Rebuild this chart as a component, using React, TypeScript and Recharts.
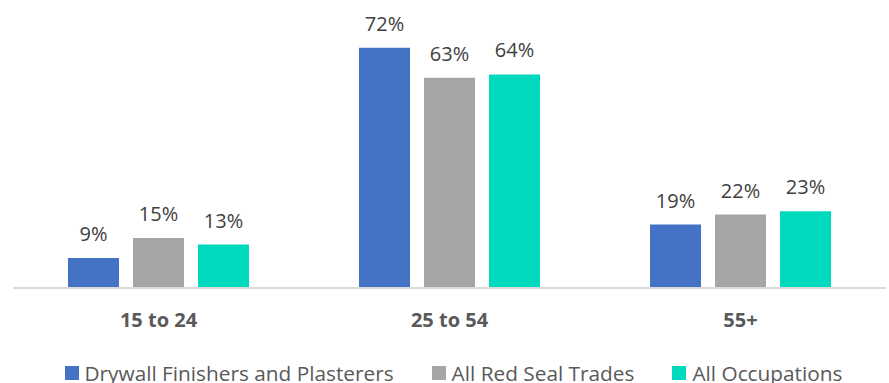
import React from 'react';
import { BarChart, Bar, XAxis, YAxis, Legend, LabelList } from 'recharts';

const categories = ['15 to 24', '25 to 54', '55+'];
const drywall = [9, 72, 19];
const redSeal = [15, 63, 22];
const allOcc = [13, 64, 23];
const seriesNames = ['Drywall Finishers and Plasterers', 'All Red Seal Trades', 'All Occupations'];
const seriesColors = ['#4472C4', '#A5A5A5', '#00D9BE'];

const data = categories.map((c, i) => ({
  cat: c,
  s0: drywall[i],
  s1: redSeal[i],
  s2: allOcc[i],
}));

const FONT = '"Open Sans", "Noto Sans", sans-serif';

const LegendContent = () => (
  <div
    style={{
      display: 'flex',
      justifyContent: 'center',
      alignItems: 'center',
      paddingTop: 25,
      paddingLeft: 8,
      gap: 38,
      fontFamily: FONT,
      fontSize: 20.8,
      lineHeight: '20px',
      color: '#595959',
      whiteSpace: 'nowrap',
    }}
  >
    {seriesNames.map((n, i) => (
      <div key={n} style={{ display: 'flex', alignItems: 'center' }}>
        <span style={{ display: 'inline-block', width: 14, height: 14, background: seriesColors[i], marginRight: 6 }} />
        <span>{n}</span>
      </div>
    ))}
  </div>
);

export default function App() {
  return (
    <div style={{ width: 889, height: 383 }}>
      <style>{`body{margin:0}`}</style>
      <BarChart
        width={889}
        height={383}
        data={data}
        margin={{ top: 21, right: 3, left: 13, bottom: 0 }}
        barSize={51}
        barGap={14}
      >
        <XAxis
          dataKey="cat"
          height={50}
          axisLine={{ stroke: '#D9D9D9', strokeWidth: 2 }}
          tickLine={false}
          tickSize={0}
          tickMargin={25}
          tick={{ fill: '#595959', fontSize: 20, fontWeight: 700, fontFamily: FONT }}
        />
        <YAxis hide domain={[0, 80]} />
        <Legend height={45} content={<LegendContent />} />
        {['s0', 's1', 's2'].map((k, i) => (
          <Bar key={k} dataKey={k} name={seriesNames[i]} fill={seriesColors[i]} isAnimationActive={false}>
            <LabelList
              dataKey={k}
              position="top"
              offset={17}
              formatter={(v: number) => `${v}%`}
              style={{ fill: '#404040', fontSize: 20, fontFamily: FONT }}
            />
          </Bar>
        ))}
      </BarChart>
    </div>
  );
}
